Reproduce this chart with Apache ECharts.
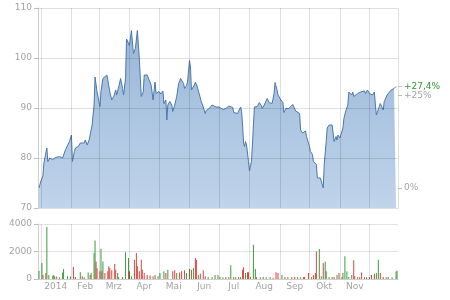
<!DOCTYPE html>
<html><head><meta charset="utf-8">
<script src="https://cdn.jsdelivr.net/npm/echarts@6/dist/echarts.min.js"></script>
<style>html,body{margin:0;padding:0;background:#fff}#c{width:450px;height:300px}</style>
</head><body><div id="c"></div>
<script>
// price (close) per date
const prices = [
['2013-12-30',74.0],['2014-01-01',75.4],['2014-01-03',76.4],['2014-01-04',79.0],['2014-01-05',78.7],
['2014-01-07',82.0],['2014-01-08',79.3],['2014-01-10',80.0],['2014-01-13',79.7],['2014-01-16',80.1],
['2014-01-18',79.8],['2014-01-20',80.3],['2014-01-23',80.0],['2014-01-25',79.9],['2014-01-26',81.7],
['2014-01-28',82.0],['2014-01-30',83.3],['2014-01-31',83.6],['2014-02-01',84.6],['2014-02-02',79.3],
['2014-02-04',81.3],['2014-02-05',82.0],['2014-02-08',82.3],['2014-02-10',83.0],['2014-02-12',83.3],
['2014-02-14',83.0],['2014-02-15',83.6],['2014-02-17',82.6],['2014-02-19',83.6],['2014-02-20',83.3],
['2014-02-22',86.6],['2014-02-24',90.6],['2014-02-25',96.2],['2014-02-27',93.2],['2014-03-01',93.5],
['2014-03-02',90.3],['2014-03-03',93.2],['2014-03-05',95.9],['2014-03-07',96.0],['2014-03-09',96.6],
['2014-03-10',95.6],['2014-03-12',93.2],['2014-03-14',91.6],['2014-03-16',92.3],['2014-03-18',93.6],
['2014-03-19',92.6],['2014-03-21',94.2],['2014-03-23',95.9],['2014-03-25',93.9],['2014-03-26',92.6],
['2014-03-28',95.9],['2014-03-29',103.8],['2014-03-31',103.5],['2014-04-01',102.5],['2014-04-03',105.5],
['2014-04-05',100.9],['2014-04-07',101.9],['2014-04-09',105.5],['2014-04-11',99.9],['2014-04-13',92.3],
['2014-04-15',93.2],['2014-04-16',96.6],['2014-04-19',96.6],['2014-04-21',96.5],['2014-04-23',94.6],
['2014-04-25',91.6],['2014-04-27',95.2],['2014-04-28',92.9],['2014-04-30',93.2],
['2014-05-01',93.3],['2014-05-03',92.8],['2014-05-05',93.4],['2014-05-06',90.9],['2014-05-08',91.6],
['2014-05-09',87.6],['2014-05-10',90.6],['2014-05-12',91.3],['2014-05-14',90.6],['2014-05-15',89.3],
['2014-05-17',90.6],['2014-05-19',92.3],['2014-05-21',94.9],['2014-05-23',95.9],['2014-05-24',96.0],
['2014-05-26',94.9],['2014-05-27',93.9],['2014-05-29',94.5],['2014-05-30',95.2],['2014-06-01',99.5],
['2014-06-02',98.2],['2014-06-03',93.6],['2014-06-05',93.9],['2014-06-06',94.6],['2014-06-07',95.2],
['2014-06-09',94.2],['2014-06-10',94.5],['2014-06-11',93.9],['2014-06-13',91.3],['2014-06-14',91.7],
['2014-06-15',90.2],['2014-06-17',88.9],['2014-06-18',89.5],['2014-06-19',89.4],['2014-06-21',89.9],
['2014-06-23',90.2],['2014-06-24',90.6],['2014-06-26',90.7],['2014-06-28',90.2],['2014-06-30',89.9],
['2014-07-01',90.2],['2014-07-03',90.0],['2014-07-05',89.7],['2014-07-06',90.0],['2014-07-08',89.9],
['2014-07-10',90.2],['2014-07-11',90.4],['2014-07-13',90.8],['2014-07-15',90.1],['2014-07-16',89.1],
['2014-07-18',89.3],['2014-07-20',88.9],['2014-07-21',89.4],['2014-07-23',90.2],['2014-07-24',89.3],
['2014-07-25',86.6],['2014-07-26',83.0],['2014-07-27',82.3],['2014-07-28',83.3],['2014-07-29',82.6],
['2014-07-30',81.0],['2014-07-31',79.3],['2014-08-01',77.4],['2014-08-03',79.3],['2014-08-04',82.6],
['2014-08-05',86.6],['2014-08-06',90.2],['2014-08-07',90.6],['2014-08-09',90.3],['2014-08-11',91.1],
['2014-08-13',90.5],['2014-08-14',89.9],['2014-08-16',90.6],['2014-08-18',90.9],['2014-08-19',91.9],
['2014-08-21',91.1],['2014-08-23',91.3],['2014-08-24',90.9],['2014-08-26',92.9],['2014-08-27',95.1],
['2014-08-29',93.6],['2014-08-30',92.6],['2014-09-01',92.3],['2014-09-02',91.6],['2014-09-04',91.1],
['2014-09-05',89.1],['2014-09-07',89.9],['2014-09-09',90.3],['2014-09-10',89.9],['2014-09-12',90.3],
['2014-09-14',90.7],['2014-09-15',90.6],['2014-09-17',89.4],['2014-09-19',89.6],['2014-09-21',88.9],
['2014-09-22',85.6],['2014-09-23',85.3],['2014-09-24',85.0],['2014-09-26',84.6],['2014-09-27',85.4],
['2014-09-28',84.3],['2014-09-30',84.0],['2014-10-01',82.3],['2014-10-02',81.3],['2014-10-04',80.7],
['2014-10-05',79.3],['2014-10-06',79.0],['2014-10-08',78.7],['2014-10-09',76.0],['2014-10-11',75.7],
['2014-10-12',76.0],['2014-10-13',75.4],['2014-10-15',74.0],['2014-10-16',78.7],['2014-10-18',83.3],
['2014-10-19',86.0],['2014-10-20',85.7],['2014-10-21',86.6],['2014-10-23',86.3],['2014-10-24',86.6],
['2014-10-25',85.0],['2014-10-26',83.3],['2014-10-28',84.3],['2014-10-29',83.6],['2014-10-30',84.6],
['2014-11-01',84.0],['2014-11-02',84.3],['2014-11-03',83.6],['2014-11-04',86.0],['2014-11-05',87.9],
['2014-11-07',89.5],['2014-11-09',90.6],['2014-11-10',93.2],['2014-11-11',93.6],['2014-11-13',92.6],
['2014-11-14',93.2],['2014-11-15',92.3],['2014-11-17',92.6],['2014-11-19',92.9],['2014-11-21',92.5],
['2014-11-22',93.2],['2014-11-24',92.9],['2014-11-26',93.4],['2014-11-27',92.9],['2014-11-29',93.6],
['2014-12-01',92.9],['2014-12-02',93.2],['2014-12-04',92.6],['2014-12-06',93.2],['2014-12-07',90.6],
['2014-12-08',88.6],['2014-12-09',88.3],['2014-12-11',90.3],['2014-12-12',90.9],['2014-12-13',90.6],
['2014-12-15',89.6],['2014-12-16',91.3],['2014-12-18',91.6],['2014-12-19',92.6],['2014-12-21',92.6],
['2014-12-23',93.6],['2014-12-24',93.7],['2014-12-26',93.9],['2014-12-28',94.3]
];
// volume per date: [date, volume, direction (1 = up day, -1 = down day)]
const volumes = [
['2013-12-30',600,1],['2014-01-02',1160,1],['2014-01-03',300,-1],['2014-01-06',430,-1],['2014-01-07',3780,1],
['2014-01-09',300,1],['2014-01-13',240,1],['2014-01-14',300,1],['2014-01-15',190,-1],['2014-01-17',190,1],
['2014-01-20',120,-1],['2014-01-23',480,1],['2014-01-24',730,1],['2014-01-28',200,1],['2014-01-31',190,1],
['2014-02-03',870,-1],['2014-02-05',150,-1],['2014-02-10',500,1],['2014-02-12',200,-1],['2014-02-14',120,1],
['2014-02-18',480,1],['2014-02-20',300,-1],['2014-02-21',430,1],['2014-02-24',1890,1],['2014-02-25',2800,1],
['2014-02-26',1280,-1],['2014-02-27',800,-1],['2014-03-02',560,-1],['2014-03-03',2200,1],['2014-03-04',560,-1],
['2014-03-05',1280,1],['2014-03-07',430,-1],['2014-03-10',560,-1],['2014-03-11',920,-1],['2014-03-12',800,-1],
['2014-03-14',630,-1],['2014-03-17',1090,-1],['2014-03-18',680,-1],['2014-03-20',430,1],['2014-03-21',150,1],
['2014-03-25',150,-1],['2014-03-28',1940,1],['2014-03-31',1520,1],['2014-04-01',560,-1],['2014-04-03',200,1],
['2014-04-06',1400,-1],['2014-04-08',1890,-1],['2014-04-09',920,-1],['2014-04-11',560,-1],['2014-04-13',1400,-1],
['2014-04-14',680,-1],['2014-04-16',430,-1],['2014-04-19',300,-1],['2014-04-22',250,-1],['2014-04-25',200,1],
['2014-04-27',300,-1],['2014-04-30',200,1],['2014-05-02',430,1],['2014-05-06',560,1],['2014-05-08',430,-1],
['2014-05-10',680,1],['2014-05-15',560,-1],['2014-05-17',630,-1],['2014-05-19',430,1],['2014-05-22',480,-1],
['2014-05-24',560,-1],['2014-05-27',630,-1],['2014-05-29',430,1],['2014-06-01',730,1],['2014-06-03',680,-1],
['2014-06-05',800,1],['2014-06-07',1520,-1],['2014-06-08',1400,-1],['2014-06-10',300,1],['2014-06-12',390,-1],
['2014-06-15',630,-1],['2014-06-17',200,-1],['2014-06-20',150,1],['2014-06-24',150,1],['2014-06-27',300,1],
['2014-06-30',300,1],['2014-07-02',150,-1],['2014-07-05',120,1],['2014-07-08',150,-1],['2014-07-11',150,1],
['2014-07-13',1000,1],['2014-07-16',150,-1],['2014-07-18',120,1],['2014-07-21',150,-1],['2014-07-23',150,1],
['2014-07-25',680,-1],['2014-07-26',850,-1],['2014-07-28',430,1],['2014-07-30',500,-1],['2014-07-31',500,-1],
['2014-08-02',150,1],['2014-08-05',2490,1],['2014-08-07',730,1],['2014-08-08',150,-1],['2014-08-12',120,1],
['2014-08-15',150,-1],['2014-08-18',120,1],['2014-08-22',150,1],['2014-08-25',100,-1],['2014-08-28',500,-1],
['2014-08-30',430,-1],['2014-09-03',300,1],['2014-09-06',150,-1],['2014-09-09',150,1],['2014-09-13',120,-1],
['2014-09-16',150,-1],['2014-09-19',150,1],['2014-09-22',120,1],['2014-09-25',150,-1],['2014-09-26',150,-1],
['2014-09-30',430,-1],['2014-10-03',150,1],['2014-10-05',300,-1],['2014-10-07',430,-1],['2014-10-08',2000,-1],
['2014-10-11',2180,1],['2014-10-13',200,1],['2014-10-15',1160,-1],['2014-10-17',1280,1],['2014-10-18',560,1],
['2014-10-21',150,1],['2014-10-24',150,-1],['2014-10-26',150,1],['2014-10-29',300,1],['2014-10-31',430,-1],
['2014-11-03',150,-1],['2014-11-04',430,1],['2014-11-06',1650,1],['2014-11-08',560,1],['2014-11-10',150,1],
['2014-11-13',300,1],['2014-11-15',1360,-1],['2014-11-16',200,-1],['2014-11-19',150,1],['2014-11-21',120,-1],
['2014-11-23',480,-1],['2014-11-26',150,1],['2014-11-28',120,-1],['2014-12-01',150,1],['2014-12-03',300,-1],
['2014-12-06',390,-1],['2014-12-08',430,1],['2014-12-10',1400,1],['2014-12-12',430,-1],['2014-12-15',150,-1],
['2014-12-18',120,1],['2014-12-20',150,-1],['2014-12-24',120,1],['2014-12-28',550,1],['2014-12-29',600,1]
];
const monthStarts = ['2014-01-01','2014-02-01','2014-03-01','2014-04-01','2014-05-01','2014-06-01',
  '2014-07-01','2014-08-01','2014-09-01','2014-10-01','2014-11-01','2014-12-01'];
const monthLabelDates = ['2014-01-16','2014-02-15','2014-03-16','2014-04-16','2014-05-16','2014-06-16',
  '2014-07-16','2014-08-16','2014-09-16','2014-10-16','2014-11-16'];
const monthLabels = ['2014','Feb','Mrz','Apr','Mai','Jun','Jul','Aug','Sep','Okt','Nov'];
const priceTicks = [70, 80, 90, 100, 110];
const volTicks = [0, 2000, 4000];
const pctTicks = [0, 25];
const xMin = '2013-12-29', xMax = '2014-12-30';

const ts = s => { const p = s.split('-').map(Number); return Date.UTC(p[0], p[1] - 1, p[2]); };
const base = prices[0][1];
const last = prices[prices.length - 1][1];
const lastPct = (last / base - 1) * 100;
const pct = v => (v / base - 1) * 100;
const pMin = priceTicks[0], pMax = priceTicks[priceTicks.length - 1];

const FONT = 'DejaVu Sans';
const GRAY = '#a3a3a3';
const GRIDC = 'rgba(0,0,0,0.12)';
const UP = '#3c9c3c', DOWN = '#d8433e';
const lab = {color: GRAY, fontFamily: FONT, fontSize: 9, margin: 6};

const gridMark = (xs, ys) => ({
  silent: true, symbol: 'none', animation: false,
  label: {show: false},
  lineStyle: {color: GRIDC, type: 'solid', width: 1},
  emphasis: {disabled: true},
  data: xs.map(v => ({xAxis: v})).concat(ys.map(v => ({yAxis: v})))
});

const chart = echarts.init(document.getElementById('c'), null, {renderer: 'canvas'});
const xCommon = {type: 'value', min: ts(xMin), max: ts(xMax)};
chart.setOption({
  animation: false,
  backgroundColor: '#fff',
  grid: [
    {left: 38, top: 8, width: 360, height: 200},
    {left: 38, top: 224, width: 360, height: 55}
  ],
  xAxis: [
    Object.assign({gridIndex: 0}, xCommon, {
     axisLine: {show: false}, axisTick: {show: false}, axisLabel: {show: false}, splitLine: {show: false}}),
    Object.assign({gridIndex: 1}, xCommon, {
     axisLine: {show: true, onZero: false, lineStyle: {color: '#cfcfcf'}},
     axisTick: {show: false},
     axisLabel: Object.assign({}, lab, {customValues: monthLabelDates.map(ts), margin: 3,
       formatter: v => monthLabels[new Date(v).getUTCMonth()]}),
     splitLine: {show: false}})
  ],
  yAxis: [
    {gridIndex: 0, type: 'value', min: pMin, max: pMax, interval: priceTicks[1] - priceTicks[0], position: 'left',
     axisLine: {show: true, lineStyle: {color: '#cfcfcf'}},
     axisTick: {show: true, length: 4, lineStyle: {color: '#bdbdbd'}},
     axisLabel: lab, splitLine: {show: false}},
    {gridIndex: 0, type: 'value', min: pct(pMin), max: pct(pMax), position: 'right',
     axisLine: {show: true, lineStyle: {color: '#e0e0e0'}},
     axisTick: {show: true, length: 4, customValues: pctTicks.concat([lastPct]), lineStyle: {color: '#bdbdbd'}},
     axisLabel: Object.assign({}, lab, {customValues: pctTicks.concat([lastPct]),
       formatter: v => {
         if (Math.abs(v - lastPct) < 1e-6) return '{up|+' + lastPct.toFixed(1).replace('.', ',') + '%}';
         return (v > 0 ? '+' : '') + v + '%';
       },
       rich: {up: {color: '#2f9a2f', fontFamily: FONT, fontSize: 9}}}),
     splitLine: {show: false}},
    {gridIndex: 1, type: 'value', min: volTicks[0], max: volTicks[volTicks.length - 1],
     interval: volTicks[1] - volTicks[0], position: 'left',
     axisLine: {show: true, lineStyle: {color: '#cfcfcf'}},
     axisTick: {show: true, length: 4, lineStyle: {color: '#bdbdbd'}},
     axisLabel: Object.assign({}, lab, {formatter: v => String(v)}),
     splitLine: {show: true, lineStyle: {color: '#e2e2e2'}}}
  ],
  series: [
    {type: 'line', xAxisIndex: 0, yAxisIndex: 0, data: prices.map(p => [ts(p[0]), p[1]]),
     symbol: 'none', silent: true,
     lineStyle: {color: '#4a79ac', width: 1},
     areaStyle: {origin: 'start', opacity: 1, color: new echarts.graphic.LinearGradient(0, 0, 0, 1, [
       {offset: 0, color: '#99b7d9'}, {offset: 1, color: '#c0d4ea'}])},
     markLine: gridMark(monthStarts.map(ts), priceTicks)},
    {type: 'bar', xAxisIndex: 1, yAxisIndex: 2, barWidth: 1, silent: true,
     data: volumes.map(v => ({value: [ts(v[0]), v[1]], itemStyle: {color: v[2] > 0 ? UP : DOWN}})),
     markLine: gridMark(monthStarts.map(ts), [])}
  ]
});
</script></body></html>
